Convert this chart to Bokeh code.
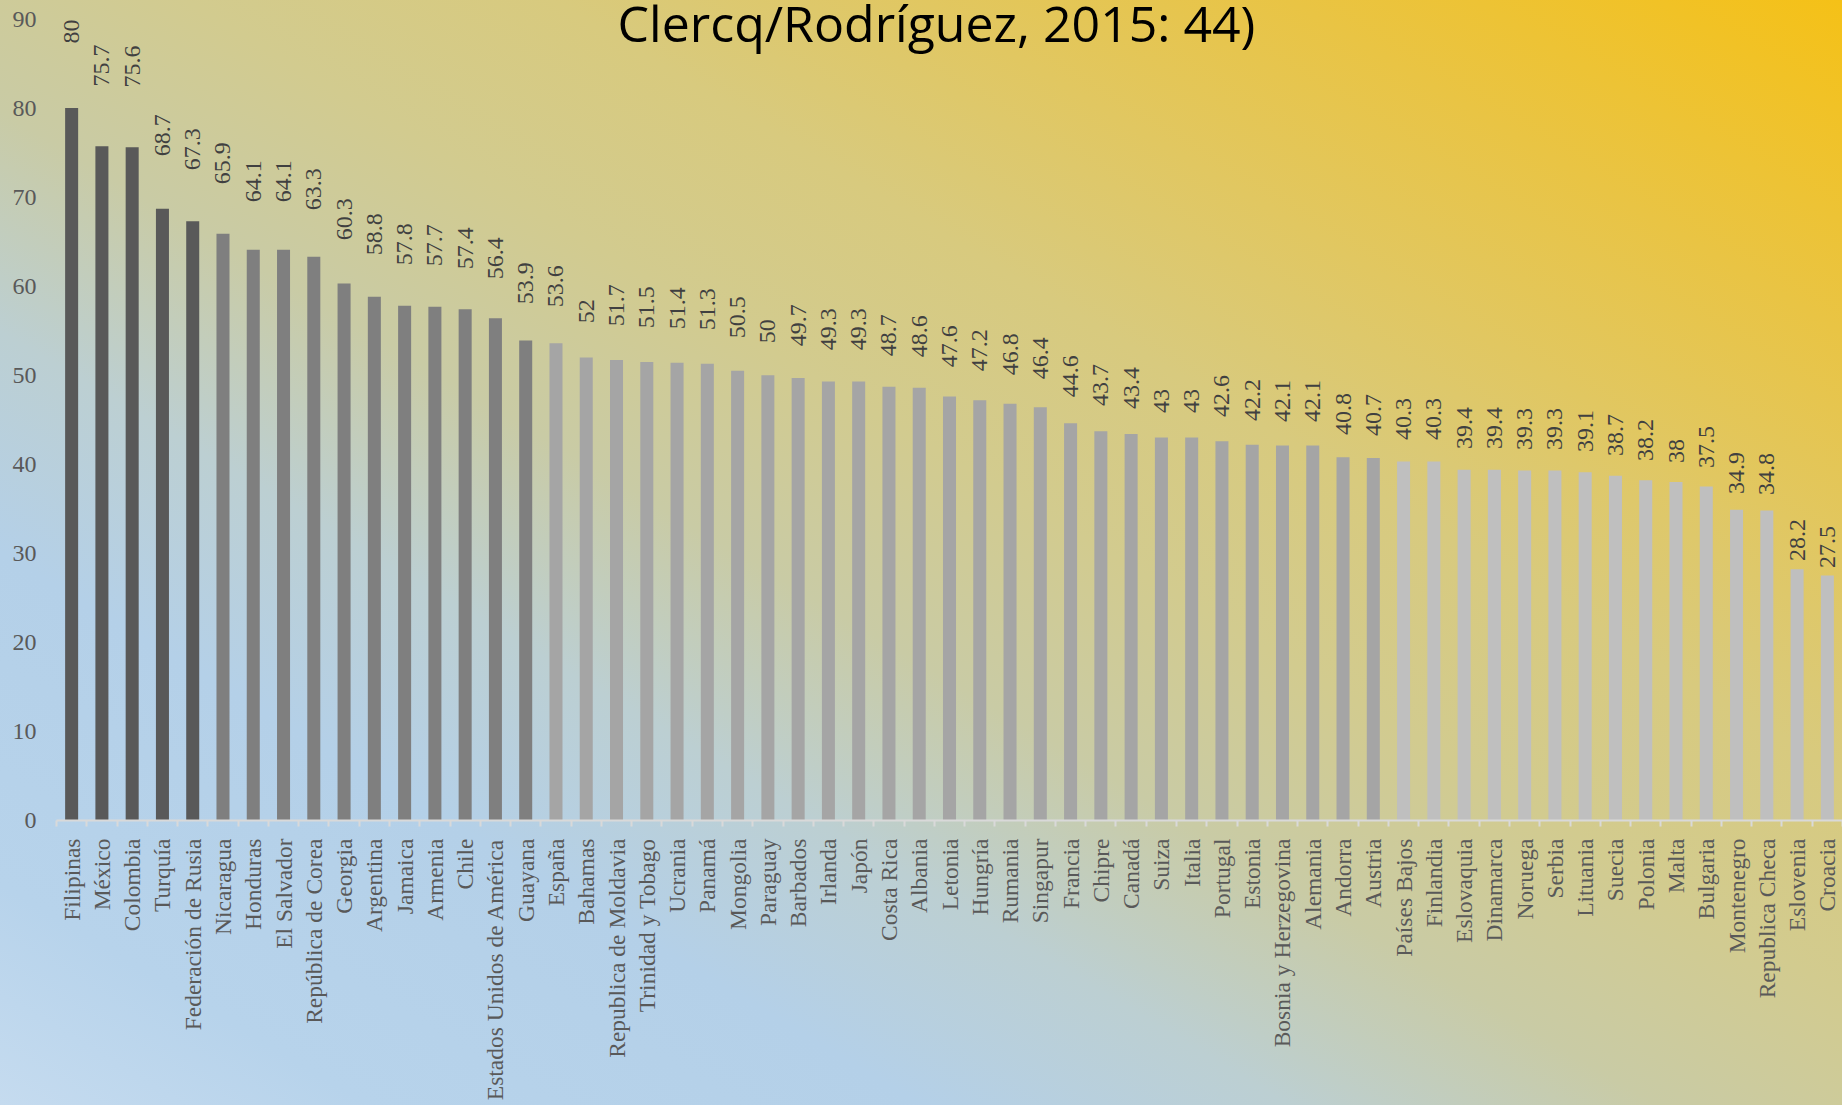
import numpy as np
from bokeh.plotting import figure
from bokeh.models import ColumnDataSource, Range1d, FixedTicker, Label
from bokeh.core.properties import value
from bokeh.embed import file_html
from bokeh.resources import INLINE

countries = [
    "Filipinas", "México", "Colombia", "Turquía", "Federación de Rusia",
    "Nicaragua", "Honduras", "El Salvador", "República de Corea", "Georgia",
    "Argentina", "Jamaica", "Armenia", "Chile", "Estados Unidos de América",
    "Guayana", "España", "Bahamas", "Republica de Moldavia", "Trinidad y Tobago",
    "Ucrania", "Panamá", "Mongolia", "Paraguay", "Barbados", "Irlanda", "Japón",
    "Costa Rica", "Albania", "Letonia", "Hungría", "Rumania", "Singapur",
    "Francia", "Chipre", "Canadá", "Suiza", "Italia", "Portugal", "Estonia",
    "Bosnia y Herzegovina", "Alemania", "Andorra", "Austria", "Países Bajos",
    "Finlandia", "Eslovaquia", "Dinamarca", "Noruega", "Serbia", "Lituania",
    "Suecia", "Polonia", "Malta", "Bulgaria", "Montenegro", "Republica Checa",
    "Eslovenia", "Croacia",
]
values = [
    80, 75.7, 75.6, 68.7, 67.3, 65.9, 64.1, 64.1, 63.3, 60.3, 58.8, 57.8, 57.7,
    57.4, 56.4, 53.9, 53.6, 52, 51.7, 51.5, 51.4, 51.3, 50.5, 50, 49.7, 49.3,
    49.3, 48.7, 48.6, 47.6, 47.2, 46.8, 46.4, 44.6, 43.7, 43.4, 43, 43, 42.6,
    42.2, 42.1, 42.1, 40.8, 40.7, 40.3, 40.3, 39.4, 39.4, 39.3, 39.3, 39.1,
    38.7, 38.2, 38, 37.5, 34.9, 34.8, 28.2, 27.5,
]
group_sizes = [5, 11, 28, 15]
group_colors = ["#595959", "#7f7f7f", "#a5a5a5", "#bfbfbf"]
y_ticks = [0, 10, 20, 30, 40, 50, 60, 70, 80, 90]
title_text = "Clercq/Rodríguez, 2015: 44)"

n = len(countries)
xs = list(range(n))
colors = []
for size, col in zip(group_sizes, group_colors):
    colors += [col] * size
labels = [f"{v:g}" for v in values]
label_y = [1.122 * v - 2.5 for v in values]

src = ColumnDataSource(dict(x=xs, top=values, color=colors, label=labels, ly=label_y))

W, H = 1842, 1105
p = figure(width=W, height=H, output_backend="svg", toolbar_location=None, tools="",
           title=None, x_range=Range1d(-0.5, n - 0.5), y_range=Range1d(0, 92.08),
           min_border_left=56, min_border_right=0, min_border_top=0,
           min_border_bottom=285)

p.background_fill_color = None
p.border_fill_color = None
p.outline_line_color = None
p.styles = {"background": "linear-gradient(to top right, #c5dbef 0%, #b7d3eb 10%, "
                          "#b4d0e8 25%, #bccfd2 35%, #c9cba5 45%, #d2cb8f 55%, "
                          "#d8ca7e 65%, #e1c761 75%, #e9c444 85%, #f5c117 100%)"}
p.xgrid.visible = False
p.ygrid.visible = False

p.vbar(x="x", top="top", width=0.43, fill_color="color", line_color=None, source=src)
p.text(x="x", y="ly", text="label", angle=np.pi / 2, text_align="left",
       text_baseline="middle", text_font=value("Liberation Serif"),
       text_font_size="24px", text_color="#404040", source=src)

xa = p.xaxis[0]
xa.ticker = FixedTicker(ticks=xs, minor_ticks=[i - 0.5 for i in range(n + 1)])
xa.major_label_overrides = {i: c for i, c in enumerate(countries)}
xa.major_label_orientation = np.pi / 2
xa.major_tick_line_color = None
xa.major_tick_out = 0
xa.major_tick_in = 0
xa.minor_tick_line_color = "#d9d9d9"
xa.minor_tick_line_width = 2
xa.minor_tick_out = 6
xa.minor_tick_in = 0
xa.axis_line_color = "#d9d9d9"
xa.axis_line_width = 2
xa.major_label_standoff = 12
xa.major_label_text_font = "Liberation Serif"
xa.major_label_text_font_size = "23.5px"
xa.major_label_text_color = "#595959"

ya = p.yaxis[0]
ya.ticker = FixedTicker(ticks=y_ticks)
ya.axis_line_color = None
ya.major_tick_line_color = None
ya.minor_tick_line_color = None
ya.major_tick_out = 0
ya.major_tick_in = 0
ya.major_label_standoff = 20
ya.major_label_text_font = "Liberation Serif"
ya.major_label_text_font_size = "24px"
ya.major_label_text_color = "#595959"

title = Label(x=28.57, y=89.6, text=title_text, text_align="center",
              text_baseline="alphabetic", text_font="Open Sans",
              text_font_size="50px", text_color="#000000")
p.add_layout(title)

open("out.html", "w").write(file_html(p, INLINE))
